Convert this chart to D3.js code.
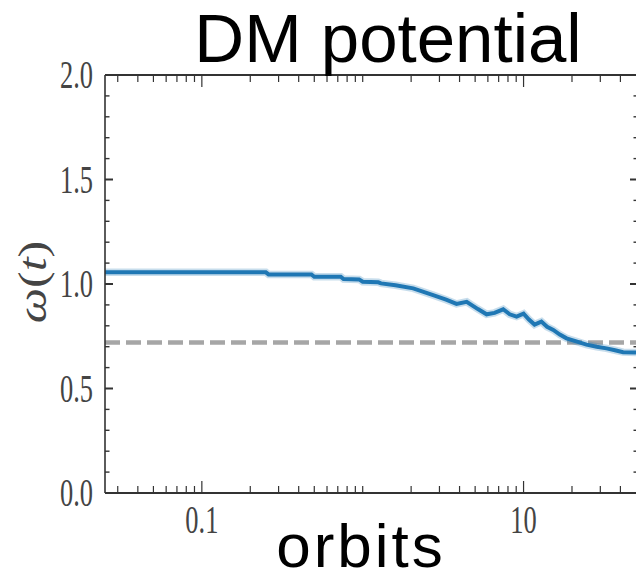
<!DOCTYPE html>
<html>
<head>
<meta charset="utf-8">
<script src="https://cdn.jsdelivr.net/npm/d3@7"></script>
<style>
  body { margin: 0; background: #fff; }
  svg { display: block; }
</style>
</head>
<body>
<svg class="omega-chart" width="636" height="580"></svg>
<script>
// orbits (log x) and omega(t)
const orbits = [0.025, 0.1, 0.25, 0.26, 0.48, 0.5, 0.73, 0.76, 0.95, 1.0, 1.25, 1.3, 1.6, 2.06, 2.74, 3.3, 3.83, 4.43, 5.2, 5.89, 6.6, 7.47, 8.2, 9.05, 10, 10.8, 11.7, 12.9, 14, 15.3, 16.8, 18.5, 21.5, 24.6, 28.5, 32.8, 37, 41.6, 50];
const omega = [1.056, 1.056, 1.056, 1.046, 1.046, 1.035, 1.035, 1.024, 1.022, 1.011, 1.008, 1.003, 0.994, 0.979, 0.947, 0.925, 0.905, 0.915, 0.88, 0.855, 0.862, 0.879, 0.855, 0.844, 0.858, 0.83, 0.806, 0.82, 0.795, 0.78, 0.758, 0.74, 0.724, 0.71, 0.7, 0.692, 0.683, 0.674, 0.672];
const refLevel = [0.72];

const xDomain = [0.025, 50];
const xMajor = [0.1, 10];
const xMajorLabels = ['0.1', '10'];
const yDomain = [0, 2];
const yMajor = [0, 0.5, 1.0, 1.5, 2.0];
const yMajorLabels = ['0.0', '0.5', '1.0', '1.5', '2.0'];

const titleText = 'DM potential';
const xLabelText = 'orbits';



const chart = d3.select('.omega-chart');
const plotLeft = 105, plotRight = 638, plotTop = 75, plotBottom = 493;

const xScale = d3.scaleLog().domain(xDomain).range([plotLeft, plotRight - 2]);
const yScale = d3.scaleLinear().domain(yDomain).range([plotBottom, plotTop]);

// minor ticks: every integer multiple in each decade, minus the majors
const xMinor = [];
for (let e = -2; e <= 1; e++) {
  for (let m = 1; m <= 9; m++) {
    const v = m * Math.pow(10, e);
    if (v > xDomain[0] && v < xDomain[1] && !xMajor.some(d => Math.abs(d - v) < 1e-9)) xMinor.push(v);
  }
}
const yMinor = d3.range(1, 20).map(i => i / 10).filter(v => !yMajor.some(d => Math.abs(d - v) < 1e-9));

chart.append('defs').append('clipPath')
  .attr('id', 'plot-clip')
  .append('rect')
  .attr('x', plotLeft).attr('y', plotTop)
  .attr('width', plotRight - plotLeft).attr('height', plotBottom - plotTop);



/*
 ** Lines
 */
const plot = chart.append('g').attr('clip-path', 'url(#plot-clip)');

plot.selectAll('line.ref')
  .data(refLevel)
  .enter()
  .append('line')
  .attr('class', 'ref')
  .attr('x1', plotLeft)
  .attr('x2', plotRight)
  .attr('y1', d => yScale(d))
  .attr('y2', d => yScale(d))
  .attr('stroke', '#a6a6a6')
  .attr('stroke-width', 4.5)
  .attr('stroke-dasharray', '15 6');

const points = orbits.map((o, i) => [o, omega[i]]);
const line = d3.line().x(d => xScale(d[0])).y(d => yScale(d[1]));

plot.append('path')
  .attr('d', line(points))
  .attr('fill', 'none')
  .attr('stroke', '#1f77b4')
  .attr('stroke-opacity', 0.25)
  .attr('stroke-width', 7.5);

plot.append('path')
  .attr('d', line(points))
  .attr('fill', 'none')
  .attr('stroke', '#1f77b4')
  .attr('stroke-width', 4);



/*
 ** Axes frame + inward ticks
 */
const axisColor = '#333';
const frame = chart.append('g').attr('class', 'frame');

frame.append('line').attr('x1', plotLeft).attr('x2', plotRight).attr('y1', plotTop).attr('y2', plotTop)
  .attr('stroke', axisColor).attr('stroke-width', 2);
frame.append('line').attr('x1', plotLeft).attr('x2', plotRight).attr('y1', plotBottom).attr('y2', plotBottom)
  .attr('stroke', axisColor).attr('stroke-width', 2);
frame.append('line').attr('x1', plotLeft).attr('x2', plotLeft).attr('y1', plotTop).attr('y2', plotBottom)
  .attr('stroke', axisColor).attr('stroke-width', 1.6);
frame.append('line').attr('x1', plotRight).attr('x2', plotRight).attr('y1', plotTop).attr('y2', plotBottom)
  .attr('stroke', axisColor).attr('stroke-width', 1.6);

const xTicks = xMajor.map(v => ({ v, len: 12 })).concat(xMinor.map(v => ({ v, len: 7 })));
[plotBottom, plotTop].forEach((y0, k) => {
  frame.selectAll(null)
    .data(xTicks)
    .enter()
    .append('line')
    .attr('x1', d => xScale(d.v))
    .attr('x2', d => xScale(d.v))
    .attr('y1', y0)
    .attr('y2', d => k === 0 ? y0 - d.len : y0 + d.len)
    .attr('stroke', axisColor)
    .attr('stroke-width', 1.2);
});

const yTicks = yMajor.map(v => ({ v, len: 8 })).concat(yMinor.map(v => ({ v, len: 4.5 })));
[plotLeft, plotRight].forEach((x0, k) => {
  frame.selectAll(null)
    .data(yTicks)
    .enter()
    .append('line')
    .attr('x1', x0)
    .attr('x2', d => k === 0 ? x0 + d.len : x0 - d.len)
    .attr('y1', d => yScale(d.v))
    .attr('y2', d => yScale(d.v))
    .attr('stroke', axisColor)
    .attr('stroke-width', d => d.len > 5 ? 2 : 1.4);
});



/*
 ** Tick labels (serif, squeezed like the original)
 */
const tickFont = "'Liberation Serif', 'DejaVu Serif', serif";
const tickColor = '#444';

chart.append('g')
  .selectAll('text')
  .data(yMajor)
  .enter()
  .append('text')
  .text((d, i) => yMajorLabels[i])
  .attr('transform', d => `translate(93, ${yScale(d) + 13}) scale(0.66, 1)`)
  .attr('text-anchor', 'end')
  .attr('font-family', tickFont)
  .attr('font-size', 40)
  .attr('fill', tickColor);

chart.append('g')
  .selectAll('text')
  .data(xMajor)
  .enter()
  .append('text')
  .text((d, i) => xMajorLabels[i])
  .attr('transform', d => `translate(${xScale(d)}, 533) scale(0.66, 1)`)
  .attr('text-anchor', 'middle')
  .attr('font-family', tickFont)
  .attr('font-size', 40)
  .attr('fill', tickColor);

// y label
const yLabel = chart.append('text')
  .attr('transform', `translate(46, ${(plotTop + plotBottom) / 2 - 2}) scale(0.8, 1) rotate(-90)`)
  .attr('text-anchor', 'middle')
  .attr('font-family', tickFont)
  .attr('font-style', 'italic')
  .attr('font-size', 50)
  .attr('fill', tickColor);
yLabel.append('tspan').text('ω');
yLabel.append('tspan').attr('font-style', 'normal').text('(');
yLabel.append('tspan').text('t');
yLabel.append('tspan').attr('font-style', 'normal').text(')');



/*
 ** Title + x label
 */
chart.append('text')
  .text(titleText)
  .attr('x', 388)
  .attr('y', 62)
  .attr('text-anchor', 'middle')
  .attr('font-family', "'Liberation Sans', Arial, sans-serif")
  .attr('font-size', 69)
  .attr('fill', '#000');

chart.append('text')
  .text(xLabelText)
  .attr('x', 361)
  .attr('y', 567)
  .attr('text-anchor', 'middle')
  .attr('font-family', "'Liberation Sans', Arial, sans-serif")
  .attr('font-size', 62)
  .attr('letter-spacing', 3)
  .attr('fill', '#000');
</script>
</body>
</html>
